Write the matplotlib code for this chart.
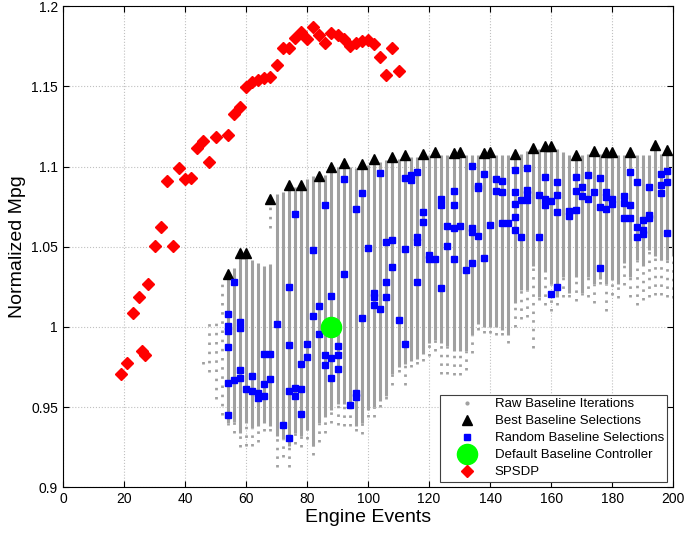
import matplotlib
matplotlib.use('Agg')
import matplotlib.pyplot as plt
from matplotlib.lines import Line2D

plt.rcParams['font.family'] = ['Liberation Sans', 'DejaVu Sans']

# raw baseline iterations: one column of runs per engine event count
raw_x = list(range(54, 201, 2))
raw_top = [1.031, 1.037, 1.044, 1.044, 1.042, 1.040, 1.038, 1.039, 1.083, 1.084,
           1.087, 1.087, 1.088, 1.092, 1.094, 1.093, 1.095, 1.099, 1.100, 1.101,
           1.100, 1.099, 1.100, 1.101, 1.103, 1.103, 1.104, 1.105, 1.105, 1.106,
           1.106, 1.106, 1.107, 1.107, 1.108, 1.107, 1.107, 1.108, 1.108, 1.107,
           1.107, 1.107, 1.108, 1.108, 1.107, 1.107, 1.107, 1.107, 1.108, 1.110,
           1.110, 1.111, 1.112, 1.112, 1.111, 1.109, 1.107, 1.106, 1.107, 1.108,
           1.109, 1.108, 1.108, 1.108, 1.107, 1.107, 1.108, 1.107, 1.107, 1.107,
           1.111, 1.108, 1.109, 1.108]
raw_bot = [0.940, 0.941, 0.934, 0.940, 0.937, 0.938, 0.940, 0.938, 0.932, 0.930,
           0.926, 0.934, 0.932, 0.936, 0.926, 0.940, 0.944, 0.948, 0.952, 0.952,
           0.950, 0.938, 0.940, 0.948, 0.950, 0.954, 0.957, 0.971, 0.975, 0.977,
           0.979, 0.980, 0.983, 0.990, 0.992, 0.990, 0.988, 0.985, 0.985, 0.985,
           0.995, 1.002, 1.000, 1.000, 1.000, 0.998, 0.995, 1.015, 1.023, 1.023,
           1.038, 1.019, 1.034, 1.027, 1.019, 1.031, 1.021, 1.031, 1.021, 1.031,
           1.027, 1.030, 1.027, 1.029, 1.027, 1.040, 1.031, 1.042, 1.038, 1.048,
           1.044, 1.042, 1.042, 1.044]
raw_tail = [0.939, 0.934, 0.925, 0.926, 0.926, 0.928, 0.935, 0.935, 0.913, 0.919,
            0.913, 0.927, 0.925, 0.930, 0.920, 0.928, 0.934, 0.940, 0.939, 0.938,
            0.938, 0.935, 0.933, 0.944, 0.944, 0.950, 0.955, 0.964, 0.972, 0.964,
            0.975, 0.977, 0.979, 0.982, 0.985, 0.971, 0.971, 0.970, 0.970, 0.973,
            0.984, 0.998, 0.996, 0.996, 0.995, 0.995, 0.990, 1.000, 1.005, 1.006,
            0.987, 1.017, 1.014, 1.010, 1.014, 1.019, 1.019, 1.016, 1.020, 1.019,
            1.015, 1.027, 1.010, 1.020, 1.018, 1.026, 1.019, 1.014, 1.017, 1.019,
            1.020, 1.020, 1.019, 1.018]
sparse_x = [46, 48, 50, 52, 68]
sparse_top = [0.982, 1.005, 1.004, 1.027, 1.078]
sparse_bot = [0.977, 0.972, 0.955, 0.945, 1.062]

best_x = [54, 58, 60, 68, 74, 78, 84, 88, 92, 98, 102, 108, 112, 118, 122,
          128, 130, 138, 140, 148, 154, 158, 160, 168, 174, 178, 180, 186, 194, 198]
best_y = [1.033, 1.046, 1.046, 1.080, 1.0885, 1.0885, 1.094, 1.100, 1.1024, 1.1018,
          1.1046, 1.1062, 1.1072, 1.1079, 1.1089, 1.1087, 1.1093, 1.1083, 1.1093, 1.1079,
          1.1114, 1.113, 1.113, 1.1072, 1.1097, 1.1091, 1.1091, 1.1091, 1.1133, 1.1103]

rand_x = [54, 54, 54, 54, 54, 54, 56, 56, 58, 58, 58, 58, 60, 62, 62, 64, 64,
          66, 66, 66, 68, 68, 70, 72, 74, 74, 74, 74, 76, 76, 76, 78, 78, 78,
          80, 80, 82, 82, 84, 84, 86, 86, 86, 88, 88, 88, 90, 90, 90, 92, 92,
          94, 96, 96, 96, 98, 98, 100, 102, 102, 102, 104, 104, 106, 106, 106,
          108, 108, 110, 112, 112, 112, 114, 114, 116, 116, 116, 116, 118, 118,
          120, 120, 122, 124, 124, 124, 126, 126, 128, 128, 128, 128, 130, 132,
          134, 134, 134, 134, 136, 136, 136, 138, 138, 140, 142, 142, 144, 144,
          144, 146, 148, 148, 148, 148, 148, 150, 150, 152, 152, 152, 152, 156,
          156, 158, 158, 158, 160, 160, 162, 162, 162, 162, 166, 166, 168, 168,
          168, 170, 170, 172, 172, 174, 176, 176, 176, 178, 178, 178, 180, 180,
          184, 184, 184, 186, 186, 186, 188, 188, 188, 190, 190, 190, 192, 192,
          192, 196, 196, 196, 198, 198, 198]
rand_y = [1.0083, 1.0006, 0.9977, 0.9877, 0.9653, 0.945, 1.0282, 0.9671,
          1.0033, 0.9992, 0.973, 0.968, 0.9613, 0.9693, 0.9599, 0.959, 0.9555,
          0.9834, 0.9645, 0.957, 0.983, 0.9678, 1.0019, 0.9389, 1.0251, 0.989,
          0.9601, 0.931, 1.0703, 0.9618, 0.9568, 0.9771, 0.9613, 0.946,
          0.9896, 0.9813, 1.0482, 1.007, 1.0129, 0.9956, 1.0759, 0.9827, 0.9763,
          1.0191, 0.9809, 0.9684, 0.9882, 0.9823, 0.974, 1.0921, 1.0329,
          0.9516, 1.0734, 0.959, 0.9562, 1.0834, 1.0054, 1.0494, 1.021, 1.0189,
          1.0137, 1.0962, 1.0112, 1.0528, 1.0279, 1.0189,
          1.0542, 1.0376, 1.0044, 1.0931, 1.0484, 0.9894, 1.0948, 1.0916,
          1.0964, 1.0559, 1.053, 1.0279, 1.0717, 1.0655,
          1.0451, 1.0424, 1.0422, 1.08, 1.0762, 1.0241, 1.063, 1.0505,
          1.0846, 1.0759, 1.0615, 1.0422, 1.063, 1.0355,
          1.1004, 1.0619, 1.0594, 1.0397, 1.0879, 1.0865, 1.0569, 1.0954, 1.0428,
          1.0634, 1.0921, 1.085, 1.0912, 1.0842,
          1.065, 1.065, 1.0981, 1.0842, 1.0767, 1.0686, 1.0607, 1.0792, 1.0561,
          1.0989, 1.0854, 1.0827, 1.0792, 1.0821,
          1.0563, 1.0935, 1.0796, 1.0759, 1.0786, 1.0204, 1.0902, 1.0823, 1.0717,
          1.0248, 1.0721, 1.0692, 1.0937, 1.0846,
          1.073, 1.0871, 1.0819, 1.095, 1.0796, 1.0842, 1.0931, 1.075, 1.0366,
          1.0842, 1.0812, 1.0734, 1.0796, 1.0767,
          1.0815, 1.0773, 1.068, 1.0964, 1.0761, 1.068, 1.0904, 1.0625, 1.0561,
          1.0667, 1.0605, 1.058, 1.0871, 1.0698,
          1.0681, 1.0956, 1.0885, 1.0837, 1.0971, 1.0904, 1.0584]

default_x = [88]
default_y = [1.0]

sp_x = [19, 21, 23, 25, 26, 27, 28, 30, 32, 34, 36, 38, 40, 42, 44, 46, 48, 50,
        54, 56, 58, 60, 62, 64, 66, 68, 70, 72, 74, 76, 78, 80, 82, 84, 86, 88,
        90, 92, 94, 96, 98, 100, 102, 104, 106, 108, 110]
sp_y = [0.9705, 0.9774, 1.0089, 1.0188, 0.9852, 0.9827, 1.0268, 1.0508, 1.0625,
        1.0908, 1.0505, 1.0993, 1.092, 1.0927, 1.1118, 1.116, 1.103, 1.1186,
        1.1197, 1.1326, 1.1373, 1.1498, 1.1526, 1.154, 1.1554, 1.156, 1.1633,
        1.1738, 1.1738, 1.180, 1.184, 1.1794, 1.1872, 1.182, 1.1769, 1.1835,
        1.182, 1.1794, 1.1752, 1.1769, 1.1785, 1.179, 1.1764, 1.1681, 1.1571,
        1.1738, 1.1598]

grey = '#a0a0a0'

fig = plt.figure(figsize=(6.86, 5.35), dpi=100)
ax = fig.add_axes([0.0918, 0.089, 0.8895, 0.8994])

# grey columns: dense part solid, sparse tail dotted
ax.vlines(raw_x, raw_bot, raw_top, color=grey, lw=2.2, zorder=1)
ax.vlines(raw_x, raw_tail, raw_bot, color=grey, lw=2.0,
          linestyles=(0, (0.9, 2.2)), zorder=1)
ax.vlines(sparse_x, sparse_bot, sparse_top, color=grey, lw=2.0,
          linestyles=(0, (0.9, 2.4)), zorder=1)

ax.plot(best_x, best_y, '^', color='k', ms=7, ls='none', zorder=3)
ax.plot(rand_x, rand_y, 's', color='#0000ff', mec='#0000ff', ms=4.5, ls='none', zorder=4)
ax.plot(default_x, default_y, 'o', color='#00ff00', mec='#00ff00', ms=14.5, ls='none', zorder=5)
ax.plot(sp_x, sp_y, 'D', color='#ff0000', mec='#ff0000', ms=6, ls='none', zorder=6)

ax.set_xlim(0, 200)
ax.set_ylim(0.9, 1.2)
ax.set_xticks(range(0, 201, 20))
ax.set_yticks([0.9, 0.95, 1.0, 1.05, 1.1, 1.15, 1.2])
ax.set_yticklabels(['0.9', '0.95', '1', '1.05', '1.1', '1.15', '1.2'])
ax.tick_params(direction='in', top=True, right=True, labelsize=10, length=4)
ax.grid(True, linestyle=':', color='#c0c0c0', linewidth=0.8)
ax.set_axisbelow(True)
for s in ax.spines.values():
    s.set_linewidth(0.8)

ax.set_xlabel('Engine Events', fontsize=14, labelpad=2)
ax.set_ylabel('Normalized Mpg', fontsize=14, labelpad=4)

handles = [
    Line2D([], [], marker='.', color=grey, ms=4, ls='none'),
    Line2D([], [], marker='^', color='k', ms=7, ls='none'),
    Line2D([], [], marker='s', color='#0000ff', ms=4.5, ls='none'),
    Line2D([], [], marker='o', color='#00ff00', ms=14.5, ls='none'),
    Line2D([], [], marker='D', color='#ff0000', ms=6, ls='none'),
]
labels = ['Raw Baseline Iterations', 'Best Baseline Selections',
          'Random Baseline Selections', 'Default Baseline Controller', 'SPSDP']
leg = ax.legend(handles, labels, loc='lower right', bbox_to_anchor=(0.99, 0.012),
                borderaxespad=0, fontsize=9.5, fancybox=False, framealpha=1,
                edgecolor='#404040', labelspacing=0.36, handlelength=3.6,
                handletextpad=0.3, borderpad=0.25)
leg.get_frame().set_linewidth(0.8)

fig.savefig('out.png', dpi=100)
